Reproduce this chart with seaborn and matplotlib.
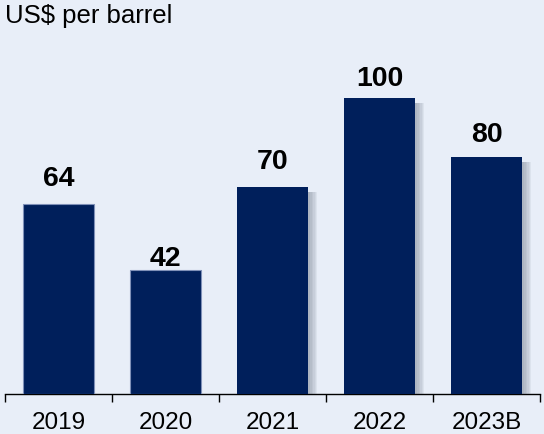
import matplotlib
matplotlib.use("Agg")
import matplotlib.pyplot as plt
import matplotlib.patheffects as pe
from matplotlib.ticker import FixedLocator, NullFormatter, FixedFormatter
import seaborn as sns
import pandas as pd

years = ["2019", "2020", "2021", "2022", "2023B"]
prices = [64, 42, 70, 100, 80]

# vertical gap (points) between each bar top and its value label
label_gaps = [13.3, 2.9, 12.5, 8.4, 10.8]
# which bars carry a drop shadow
shadowed = [False, False, True, True, True]

BG = "#e8eef8"
NAVY = "#001f5b"

sns.set_theme(style="white")
plt.rcParams["font.family"] = ["Liberation Sans", "DejaVu Sans"]

fig = plt.figure(figsize=(5.44, 4.34), dpi=100, facecolor=BG)
ax = fig.add_axes([5 / 544, 40 / 434, 535 / 544, 334 / 434], facecolor=BG)

df = pd.DataFrame({"year": years, "price": prices})
sns.barplot(data=df, x="year", y="price", color=NAVY, saturation=1,
            width=0.67, linewidth=0, edgecolor="none", ax=ax, zorder=3)

# soft drop shadow built from faint offset copies
shadow = [pe.SimplePatchShadow(offset=(d, -3.5), shadow_rgbFace="#4a5468",
                               alpha=0.07) for d in (6.5, 5.5, 4.5, 3.5, 2.5, 1.5)]
for bar, has_shadow in zip(ax.patches, shadowed):
    if has_shadow:
        bar.set_path_effects(shadow + [pe.Normal()])
    else:
        bar.set_edgecolor("#7f90b8")
        bar.set_linewidth(0.8)

for bar, v, gap in zip(ax.patches, prices, label_gaps):
    ax.annotate(f"{v}", (bar.get_x() + bar.get_width() / 2, v),
                xytext=(0, gap), textcoords="offset points",
                ha="center", va="baseline", fontsize=20.5, fontweight="bold",
                color="#000000")

ax.set_xlim(-0.5, len(years) - 0.5)
ax.set_ylim(0, 112.8)
ax.set_xlabel("")
ax.set_ylabel("")
ax.set_yticks([])

for side in ("top", "right", "left"):
    ax.spines[side].set_visible(False)
ax.spines["bottom"].set_color("#000000")
ax.spines["bottom"].set_linewidth(1.0)

# boundary ticks between categories, labels on the category centres
ax.xaxis.set_major_locator(FixedLocator([i - 0.5 for i in range(len(years) + 1)]))
ax.xaxis.set_major_formatter(NullFormatter())
ax.xaxis.set_minor_locator(FixedLocator(list(range(len(years)))))
ax.xaxis.set_minor_formatter(FixedFormatter(years))
ax.tick_params(axis="x", which="major", direction="out", length=6, width=1,
               color="#000000", bottom=True)
ax.tick_params(axis="x", which="minor", length=0, pad=13, labelsize=17.5,
               labelcolor="#000000", bottom=True)

fig.text(5 / 544, 1 - 4 / 434, "US$ per barrel", ha="left", va="top",
         fontsize=18.5, color="#000000")

fig.savefig("out.png", dpi=100, facecolor=BG)
